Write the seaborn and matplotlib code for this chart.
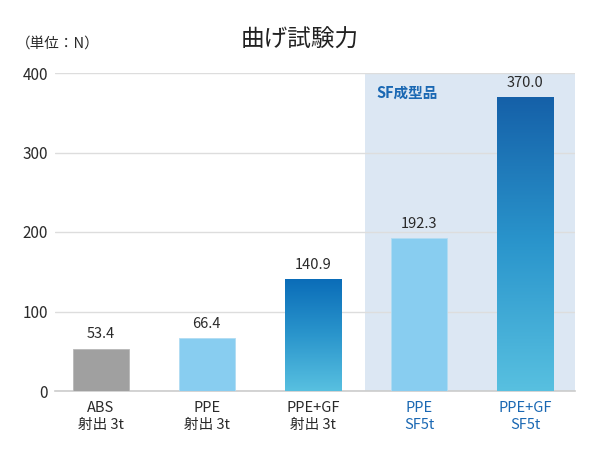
import numpy as np
import pandas as pd
import matplotlib
matplotlib.use("Agg")
import matplotlib.pyplot as plt
from matplotlib.colors import LinearSegmentedColormap
import seaborn as sns

categories = ["ABS\n射出 3t", "PPE\n射出 3t", "PPE+GF\n射出 3t", "PPE\nSF5t", "PPE+GF\nSF5t"]
values = [53.4, 66.4, 140.9, 192.3, 370.0]
bar_colors = ["#a0a0a0", "#88cdf0", "#0a6cb8", "#88cdf0", "#1560a8"]
gradient_bars = [2, 4]
label_colors = ["#2a2a2a", "#2a2a2a", "#2a2a2a", "#1a68b3", "#1a68b3"]

sns.set_theme(style="white")
plt.rcParams['font.family'] = ['Noto Sans CJK JP', 'DejaVu Sans']

fig = plt.figure(figsize=(6.01, 4.51), dpi=100)
ax = fig.add_axes([55/601, 60/451, 520/601, 318/451])

df = pd.DataFrame({"cat": categories, "val": values})
sns.barplot(data=df, x="cat", y="val", hue="cat", palette=bar_colors, saturation=1,
            width=0.53, legend=False, ax=ax, zorder=3)
bars = list(ax.patches)

# SF region shading
ax.axvspan(2.49, 4.6, ymin=0, ymax=1, color="#dce7f3", zorder=0, lw=0)

grad = np.linspace(0, 1, 256).reshape(-1, 1)
for i, p in enumerate(bars):
    if i in gradient_bars:
        x0, w, h = p.get_x(), p.get_width(), p.get_height()
        p.set_facecolor("none")
        p.set_edgecolor("none")
        top = "#0a6cb8" if i == 2 else "#1560a8"
        cm = LinearSegmentedColormap.from_list("g%d" % i, ["#58c0e0", "#2a95cc", top])
        im = ax.imshow(grad, cmap=cm, aspect="auto", extent=[x0, x0 + w, 0, h],
                       origin="lower", zorder=3)
        im.set_clip_path(p)
    else:
        p.set_edgecolor("#b8b8b8" if i == 0 else "#b0dcf3")
        p.set_linewidth(0.6)

for i, v in enumerate(values):
    ax.text(i, v + 9, "%.1f" % v, ha="center", va="bottom", fontsize=10.5, color="#2a2a2a", zorder=4)

ax.set_xlim(-0.43, 4.47)
ax.set_ylim(0, 400)
ax.set_yticks([0, 100, 200, 300, 400])
ax.yaxis.grid(True, color="#dddddd", lw=1, zorder=1)
ax.set_axisbelow(True)
ax.set_xlabel("")
ax.set_ylabel("")
for s in ["top", "right", "left"]:
    ax.spines[s].set_visible(False)
ax.spines["bottom"].set_color("#cccccc")
ax.spines["bottom"].set_linewidth(1.2)
ax.tick_params(axis="y", length=0, labelsize=11, labelcolor="#2a2a2a", pad=5)
ax.tick_params(axis="x", length=0, labelsize=10.5, pad=7)
ax.set_xticks(range(5))
ax.set_xticklabels(categories, linespacing=1.3)
for t, c in zip(ax.get_xticklabels(), label_colors):
    t.set_color(c)

ax.text(2.6, 385, "SF成型品", fontsize=10.5, fontweight="bold", color="#1a68b3", va="top", zorder=4)

fig.text(300/601, 1 - 40/451, "曲げ試験力", fontsize=17, ha="center", va="center", color="#222222")
fig.text(16/601, 1 - 44/451, "（単位：N）", fontsize=10.5, ha="left", va="center", color="#2a2a2a")

fig.savefig("out.png", dpi=100, facecolor="white")
